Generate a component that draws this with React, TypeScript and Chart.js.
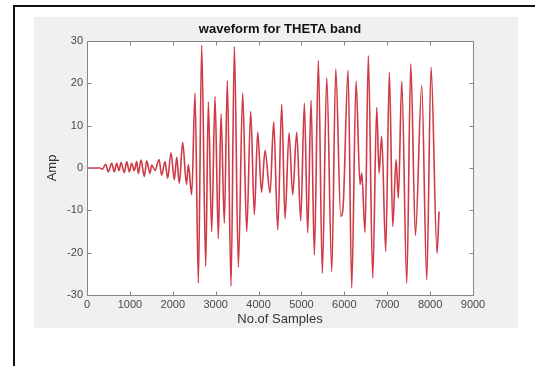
import React, { useEffect, useRef } from "react";
import { Chart, registerables } from "chart.js";

Chart.register(...registerables);

// ---- data ----
const sampleIndex = [
  0, 300, 357, 435, 497, 575, 637, 692, 746, 793, 870, 925, 987, 1041, 1103, 1159,
  1197, 1259, 1337, 1392, 1469, 1508, 1586, 1679, 1741, 1819, 1881, 1959, 2036, 2091,
  2152, 2231, 2320, 2363, 2441, 2519, 2596, 2674, 2768, 2829, 2907, 2985, 3062, 3125,
  3202, 3272, 3358, 3436, 3529, 3630, 3724, 3817, 3902, 3980, 4070, 4151, 4268, 4353,
  4447, 4540, 4617, 4711, 4796, 4890, 4983, 5068, 5146, 5224, 5301, 5395, 5487, 5590,
  5707, 5800, 5916, 5975, 6087, 6172, 6273, 6366, 6406, 6483, 6560, 6662, 6756, 6809,
  6871, 6965, 7050, 7129, 7206, 7260, 7339, 7456, 7549, 7657, 7805, 7922, 8022, 8162,
  8208,
];

const amplitude = [
  0, 0, -0.3, 0.9, -0.9, 1.1, -0.9, 1.1, -0.6, 1.3, -1.1, 1.5, -0.9, 1.1, -0.6, 1.5,
  -1.3, 1.9, -2.0, 1.7, -1.3, 0.7, -0.6, 2.0, -1.7, 1.5, -2.4, 3.6, -2.8, 2.5,
  -3.6, 6.0, -3.9, 0.8, -6.3, 17.7, -27.2, 29.0, -23.2, 15.6, -15.0, 16.9, -16.7, 12.8,
  -13.0, 20.6, -27.9, 28.7, -23.4, 17.7, -15.0, 13.4, -11.0, 8.5, -5.7, 4.1, -5.9, 10.9,
  -14.6, 15.0, -11.9, 8.3, -6.3, 8.5, -12.5, 15.3, -15.3, 16.0, -20.5, 25.4, -24.8, 21.3,
  -24.5, 23.4, -11.4, -8.5, 23.1, -28.3, 20.5, -3.9, -1.2, -15.2, 26.5, -26.0, 14.3, -1.2,
  7.5, -19.7, 22.6, -13.8, 2.0, -7.1, 20.5, -27.2, 24.6, -15.9, 19.5, -26.4, 23.8, -20.1,
  -10.3,
];

const xTickValues = [0, 1000, 2000, 3000, 4000, 5000, 6000, 7000, 8000, 9000];
const yTickValues = [-30, -20, -10, 0, 10, 20, 30];

const chartTitle = "waveform for THETA band";
const xAxisLabel = "No.of Samples";
const yAxisLabel = "Amp";

const FONT = "'Liberation Sans', Arial, Helvetica, sans-serif";
const LINE_COLOR = "#cf3a46";
const AXIS_COLOR = "#858585";
const LABEL_COLOR = "#474747";

const matlabAxesPlugin = {
  id: "matlabAxes",
  beforeDraw(chart: any) {
    const { ctx, chartArea } = chart;
    const { left, top, right, bottom } = chartArea;
    ctx.save();
    ctx.fillStyle = "#ffffff";
    ctx.fillRect(left, top, right - left, bottom - top);
    ctx.restore();
  },
  afterDraw(chart: any) {
    const { ctx, chartArea, scales } = chart;
    const l = Math.round(chartArea.left) + 0.5;
    const t = Math.round(chartArea.top) + 0.5;
    const r = Math.round(chartArea.right) + 0.5;
    const b = Math.round(chartArea.bottom) + 0.5;
    const len = 4;
    ctx.save();
    ctx.strokeStyle = AXIS_COLOR;
    ctx.lineWidth = 1;
    ctx.strokeRect(l, t, r - l, b - t);
    ctx.beginPath();
    for (const v of xTickValues) {
      const x = Math.round(scales.x.getPixelForValue(v)) + 0.5;
      ctx.moveTo(x, b);
      ctx.lineTo(x, b - len);
      ctx.moveTo(x, t);
      ctx.lineTo(x, t + len);
    }
    for (const v of yTickValues) {
      const y = Math.round(scales.y.getPixelForValue(v)) + 0.5;
      ctx.moveTo(l, y);
      ctx.lineTo(l + len, y);
      ctx.moveTo(r, y);
      ctx.lineTo(r - len, y);
    }
    ctx.stroke();
    ctx.restore();
  },
};

export default function App() {
  const canvasRef = useRef<HTMLCanvasElement | null>(null);

  useEffect(() => {
    const canvas = canvasRef.current;
    if (!canvas) return;
    const points = sampleIndex.map((x, i) => ({ x, y: amplitude[i] }));
    const chart = new Chart(canvas, {
      type: "line",
      data: {
        datasets: [
          {
            data: points,
            borderColor: LINE_COLOR,
            borderWidth: 1.6,
            pointRadius: 0,
            fill: false,
            cubicInterpolationMode: "monotone",
          },
        ],
      },
      options: {
        responsive: false,
        animation: false,
        devicePixelRatio: 1,
        layout: { padding: { left: 0, right: 45, top: 0, bottom: 0 } },
        plugins: {
          legend: { display: false },
          tooltip: { enabled: false },
          title: {
            display: true,
            fullSize: false,
            text: chartTitle,
            color: "#111",
            font: { size: 13, weight: "bold", family: FONT, lineHeight: 1.2 },
            padding: { top: 5, bottom: 3.4 },
          },
        },
        scales: {
          x: {
            type: "linear",
            min: 0,
            max: 9000,
            afterBuildTicks: (s: any) => {
              s.ticks = xTickValues.map((v) => ({ value: v }));
            },
            afterFit: (s: any) => {
              s.height = 33;
            },
            grid: { display: false, drawTicks: false },
            border: { display: false },
            ticks: {
              padding: 3,
              color: LABEL_COLOR,
              font: { size: 11, family: FONT },
              maxRotation: 0,
              autoSkip: false,
              callback: (v: any) => String(v),
            },
            title: {
              display: true,
              text: xAxisLabel,
              color: "#333",
              font: { size: 13, family: FONT, lineHeight: 1.2 },
              padding: { top: 0, bottom: 1.2 },
            },
          },
          y: {
            type: "linear",
            min: -30,
            max: 30,
            afterBuildTicks: (s: any) => {
              s.ticks = yTickValues.map((v) => ({ value: v }));
            },
            afterFit: (s: any) => {
              s.width = 53;
            },
            grid: { display: false, drawTicks: false },
            border: { display: false },
            ticks: {
              padding: 4,
              color: LABEL_COLOR,
              font: { size: 11, family: FONT },
              autoSkip: false,
              callback: (v: any) => String(v),
            },
            title: {
              display: true,
              text: yAxisLabel,
              color: "#333",
              font: { size: 13, family: FONT, lineHeight: 1.2 },
              padding: { top: 10.2, bottom: 0 },
            },
          },
        },
      },
      plugins: [matlabAxesPlugin],
    } as any);
    return () => chart.destroy();
  }, []);

  return (
    <div
      style={{
        position: "absolute",
        left: 0,
        top: 0,
        width: 535,
        height: 366,
        background: "#ffffff",
        overflow: "hidden",
      }}
    >
      <div
        style={{
          position: "absolute",
          left: 13,
          top: 5,
          width: 600,
          height: 600,
          borderLeft: "2px solid #111",
          borderTop: "2px solid #111",
        }}
      />
      <div
        style={{
          position: "absolute",
          left: 34,
          top: 17,
          width: 484,
          height: 311,
          background: "#f0f0f0",
        }}
      >
        <canvas
          ref={canvasRef}
          width={484}
          height={311}
          style={{ display: "block", width: 484, height: 311 }}
        />
      </div>
    </div>
  );
}
